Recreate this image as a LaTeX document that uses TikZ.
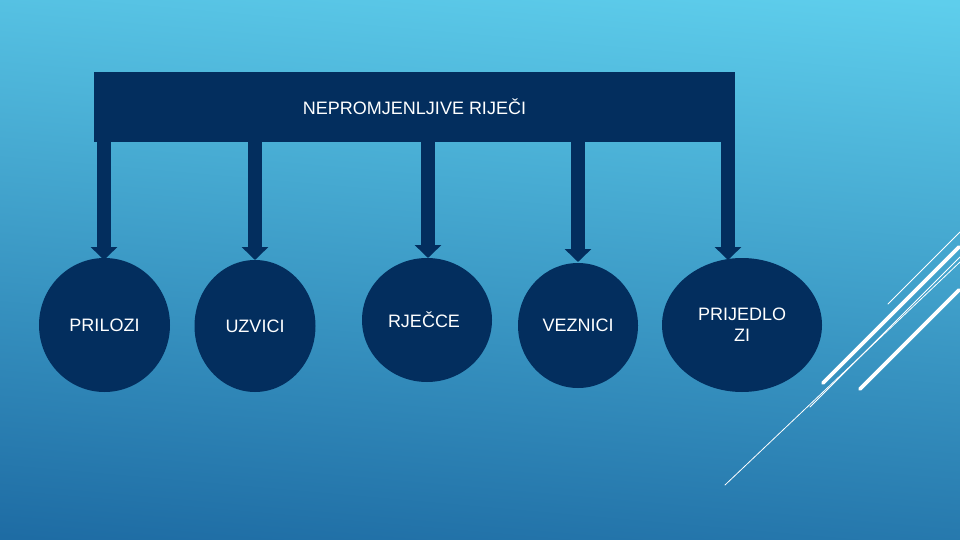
\documentclass[tikz,border=0pt]{standalone}
\usepackage{fontspec}
\setmainfont{Liberation Sans}
\usetikzlibrary{shapes.geometric,arrows.meta}
\definecolor{bgtop}{RGB}{94,206,236}
\definecolor{bgbot}{RGB}{30,108,164}
\definecolor{navy}{RGB}{3,46,94}
\tikzset{
  hdr/.style={fill=navy,draw=none,minimum width=641pt,minimum height=70pt,inner sep=0pt,text=white,font=\fontsize{18}{21}\selectfont},
  bubble/.style={ellipse,fill=navy,draw=none,inner sep=0pt,text=white,align=center,font=\fontsize{18}{21}\selectfont},
  blockarrow/.style={draw=navy,line width=14pt,-{Triangle[width=26pt,length=13pt]}},
  thinline/.style={white,line width=0.8pt,line cap=round},
  thickline/.style={white,line width=3.6pt,line cap=round}
}
\begin{document}
\begin{tikzpicture}[x=1pt,y=-1pt]
\useasboundingbox (0,0) rectangle (960,540);
\path[top color=bgtop,bottom color=bgbot,shading angle=-5] (-20,-20) rectangle (980,560);

% decorative lines
\draw[thinline] (888,304) -- (960,232);
\draw[thickline] (823,383) -- (959,247);
\draw[thinline] (810,407) -- (960,257);
\draw[thinline] (725,485) -- (960,262);
\draw[thickline] (860,389) -- (959,290);

% arrow tips
\coordinate (t1) at (104,260);
\coordinate (t2) at (255,260);
\coordinate (t3) at (428,258);
\coordinate (t4) at (578,262);
\coordinate (t5) at (728,260);

\node[hdr] (box) at (414.5,107) {NEPROMJENLJIVE RIJEČI};

\foreach \t in {t1,t2,t3,t4,t5}
  \draw[blockarrow] ([yshift=2pt]box.south -| \t) -- (\t);

\node[bubble,minimum width=131pt,minimum height=134pt] (e1) at (104.5,325) {PRILOZI};
\node[bubble,minimum width=121pt,minimum height=132pt] (e2) at (255,326) {UZVICI};
\node[bubble,minimum width=130pt,minimum height=124pt] (e3) at (427,320) {\hspace*{-6pt}RJEČCE};
\node[bubble,minimum width=120pt,minimum height=125pt] (e4) at (578,325.5) {VEZNICI};
\node[bubble,minimum width=160pt,minimum height=134pt] (e5) at (742,325) {PRIJEDLO\\ZI};
\end{tikzpicture}
\end{document}
